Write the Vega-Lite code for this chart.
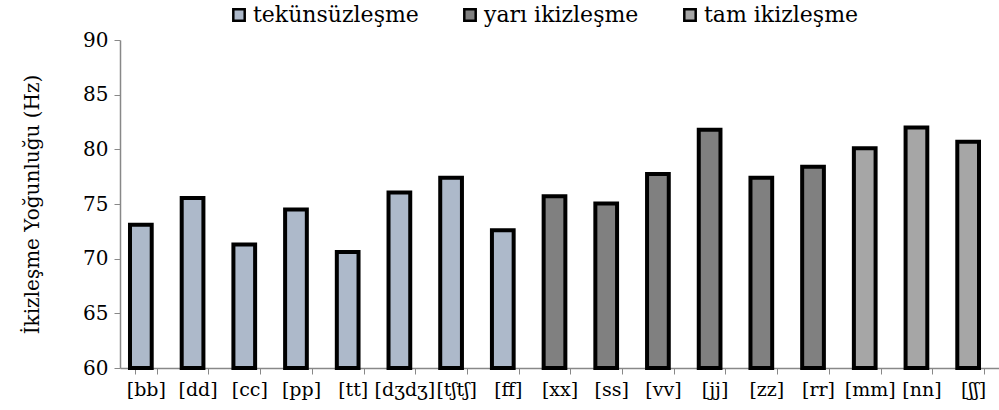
{
  "$schema": "https://vega.github.io/schema/vega-lite/v6.json",
  "width": 879,
  "height": 328,
  "autosize": "none",
  "padding": {"left": 120, "top": 40, "right": 0, "bottom": 42},
  "background": "white",
  "config": {
    "view": {"stroke": null},
    "font": "DejaVu Serif"
  },
  "data": {
    "values": [
      {"c": "[bb]", "v": 73.1, "g": "tekünsüzleşme"},
      {"c": "[dd]", "v": 75.55, "g": "tekünsüzleşme"},
      {"c": "[cc]", "v": 71.3, "g": "tekünsüzleşme"},
      {"c": "[pp]", "v": 74.5, "g": "tekünsüzleşme"},
      {"c": "[tt]", "v": 70.6, "g": "tekünsüzleşme"},
      {"c": "[dʒdʒ]", "v": 76.05, "g": "tekünsüzleşme"},
      {"c": "[tʃtʃ]", "v": 77.4, "g": "tekünsüzleşme"},
      {"c": "[ff]", "v": 72.6, "g": "tekünsüzleşme"},
      {"c": "[xx]", "v": 75.7, "g": "yarı ikizleşme"},
      {"c": "[ss]", "v": 75.05, "g": "yarı ikizleşme"},
      {"c": "[vv]", "v": 77.75, "g": "yarı ikizleşme"},
      {"c": "[jj]", "v": 81.8, "g": "yarı ikizleşme"},
      {"c": "[zz]", "v": 77.4, "g": "yarı ikizleşme"},
      {"c": "[rr]", "v": 78.4, "g": "yarı ikizleşme"},
      {"c": "[mm]", "v": 80.1, "g": "tam ikizleşme"},
      {"c": "[nn]", "v": 82.0, "g": "tam ikizleşme"},
      {"c": "[ʃʃ]", "v": 80.7, "g": "tam ikizleşme"}
    ]
  },
  "mark": {"type": "bar", "stroke": "black", "strokeWidth": 4, "xOffset": -5},
  "encoding": {
    "x": {
      "field": "c",
      "type": "nominal",
      "sort": null,
      "scale": {"paddingInner": 0.58, "paddingOuter": 0.29},
      "axis": {
        "title": null,
        "labelAngle": 0,
        "labelFont": "DejaVu Serif",
        "labelFontSize": 19,
        "labelColor": "black",
        "labelPadding": 6,
        "tickBand": "extent",
        "tickColor": "#888888",
        "tickSize": 6,
        "domainColor": "#888888",
        "domainWidth": 1.5
      }
    },
    "y": {
      "field": "v",
      "type": "quantitative",
      "scale": {"domain": [60, 90], "zero": false, "nice": false},
      "axis": {
        "title": "İkizleşme Yoğunluğu (Hz)",
        "titleFont": "DejaVu Serif",
        "titleFontSize": 20,
        "titleFontWeight": "normal",
        "titleColor": "black",
        "titlePadding": 40,
        "values": [60, 65, 70, 75, 80, 85, 90],
        "grid": false,
        "labelFont": "DejaVu Serif",
        "labelFontSize": 20,
        "labelColor": "black",
        "labelPadding": 6,
        "tickColor": "#888888",
        "tickSize": 6,
        "domainColor": "#888888",
        "domainWidth": 1.5
      }
    },
    "y2": {"datum": 60},
    "fill": {
      "field": "g",
      "type": "nominal",
      "scale": {
        "domain": ["tekünsüzleşme", "yarı ikizleşme", "tam ikizleşme"],
        "range": ["#adb9ca", "#808080", "#a6a6a6"]
      },
      "legend": {
        "title": null,
        "orient": "none",
        "legendX": 108,
        "legendY": -36,
        "direction": "horizontal",
        "columns": 3,
        "columnPadding": 40,
        "symbolType": "square",
        "symbolSize": 130,
        "symbolStrokeColor": "black",
        "symbolStrokeWidth": 2.5,
        "labelOffset": 3,
        "labelFont": "DejaVu Serif",
        "labelFontSize": 22,
        "labelColor": "black",
        "labelLimit": 400
      }
    }
  }
}
